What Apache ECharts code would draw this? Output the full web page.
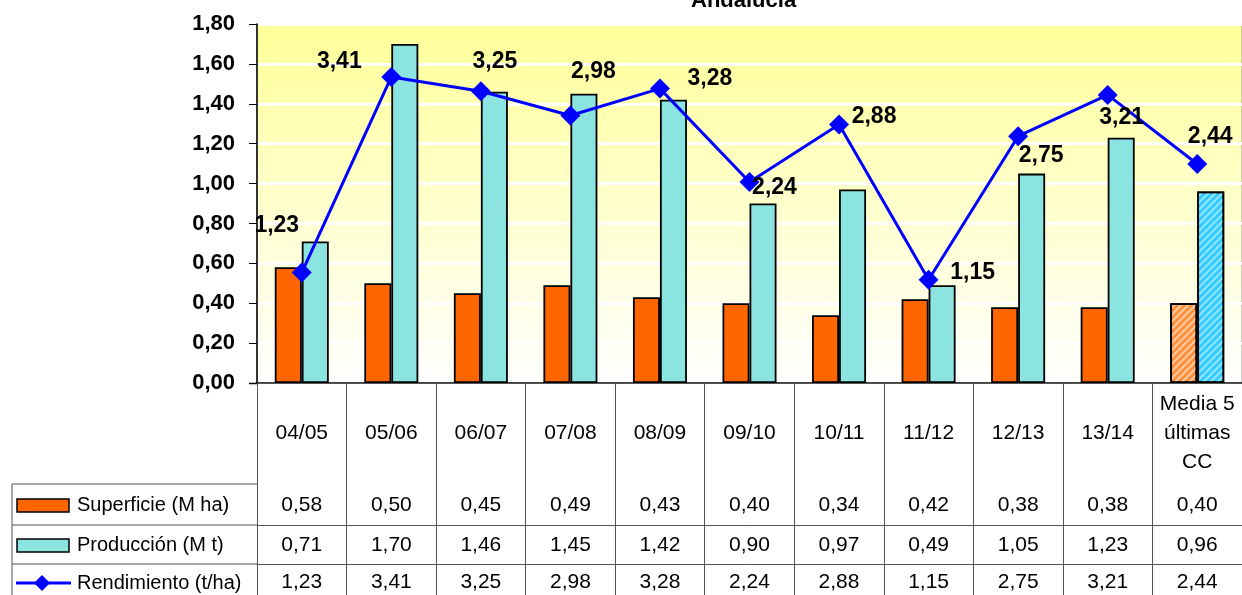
<!DOCTYPE html>
<html>
<head>
<meta charset="utf-8">
<script src="https://cdn.jsdelivr.net/npm/echarts@6/dist/echarts.min.js"></script>
<style>
	html, body { margin: 0; padding: 0; background: #fff; }
	#main { width: 1242px; height: 595px; }
</style>
</head>
<body>
<div id="main"></div>
<script>
var campanas = ['04/05', '05/06', '06/07', '07/08', '08/09', '09/10', '10/11', '11/12', '12/13', '13/14', 'Media 5\núltimas\nCC'];
var superficie = [0.58, 0.50, 0.45, 0.49, 0.43, 0.40, 0.34, 0.42, 0.38, 0.38, 0.40];
var produccion = [0.71, 1.70, 1.46, 1.45, 1.42, 0.90, 0.97, 0.49, 1.05, 1.23, 0.96];
var rendimiento = [1.23, 3.41, 3.25, 2.98, 3.28, 2.24, 2.88, 1.15, 2.75, 3.21, 2.44];
var yTicks = [0, 0.2, 0.4, 0.6, 0.8, 1.0, 1.2, 1.4, 1.6, 1.8];

// posicion de las etiquetas del rendimiento (desplazamiento respecto al punto)
var labelOffsets = [[-25, -47], [-52, -15], [14, -30], [23, -44], [50, -10], [25, 6],
	[35, -8], [44, -7], [23, 19], [14, 23], [13, -27]];

var FONT = '"Liberation Sans", Arial, sans-serif';
var LINE = '#555';

function fmt(v) {
	return v.toFixed(2).replace('.', ',');
}

function hatch(color) {
	return {
		color : color,
		dashArrayX : [ 1, 0 ],
		dashArrayY : [ 2, 3 ],
		rotation : -Math.PI / 4,
		symbol : 'rect'
	};
}

function tableAxis(offset, margin, values) {
	return {
		type : 'category',
		gridIndex : 0,
		position : 'bottom',
		offset : offset,
		data : campanas,
		axisLine : { show : true, lineStyle : { color : LINE, width : 1 } },
		axisTick : { show : false },
		axisLabel : {
			margin : margin,
			interval : 0,
			verticalAlign : 'middle',
			fontFamily : FONT,
			fontSize : 21,
			color : '#000',
			formatter : function(value, idx) {
				return fmt(values[idx]);
			}
		}
	};
}

function initChart() {
	var myChart = echarts.init(document.getElementById('main'));
	var last = campanas.length - 1;

	var supData = superficie.map(function(v, i) {
		if (i == last) {
			return { value : v, itemStyle : { color : '#FF9040', decal : hatch('rgba(255,220,180,0.8)') } };
		}
		return v;
	});
	var prodData = produccion.map(function(v, i) {
		if (i == last) {
			return { value : v, itemStyle : { color : '#33CCFF', decal : hatch('rgba(170,235,255,0.8)') } };
		}
		return v;
	});
	var rendData = rendimiento.map(function(v, i) {
		return { value : v, label : { offset : labelOffsets[i] } };
	});

	myChart.setOption({
		animation : false,
		title : {
			text : 'Andalucía',
			left : 686,
			top : -15,
			textStyle : { fontFamily : FONT, fontSize : 22, fontWeight : 'bold', color : '#000' }
		},
		grid : {
			left : 257,
			right : -3,
			top : 24,
			bottom : 212,
			show : true,
			borderColor : '#999',
			borderWidth : 1,
			backgroundColor : {
				type : 'linear', x : 0, y : 0, x2 : 0, y2 : 1,
				colorStops : [ { offset : 0, color : '#FFFF99' }, { offset : 1, color : '#FFFFFF' } ]
			}
		},
		xAxis : [ {
			type : 'category',
			data : campanas,
			axisLine : { lineStyle : { color : '#000', width : 1.5 } },
			axisTick : { show : true, length : 212, lineStyle : { color : LINE, width : 1 } },
			axisLabel : {
				interval : 0,
				margin : 50,
				verticalAlign : 'middle',
				lineHeight : 29,
				fontFamily : FONT,
				fontSize : 21,
				color : '#000'
			}
		},
			tableAxis(101, 21, superficie),
			tableAxis(142, 20, produccion),
			tableAxis(181, 18, rendimiento)
		],
		yAxis : [ {
			type : 'value',
			min : yTicks[0],
			max : yTicks[yTicks.length - 1],
			interval : 0.2,
			axisLine : { show : true, lineStyle : { color : '#000', width : 1.5 } },
			axisTick : { show : true, length : 8, lineStyle : { color : '#000' } },
			splitLine : { lineStyle : { color : '#fff', width : 3 } },
			axisLabel : {
				margin : 22,
				fontFamily : FONT,
				fontSize : 22,
				fontWeight : 'bold',
				color : '#000',
				formatter : function(v) {
					return fmt(v);
				}
			}
		}, {
			type : 'value',
			min : 0,
			max : 4,
			show : false,
			splitLine : { show : false }
		} ],
		series : [ {
			name : 'Superficie (M ha)',
			type : 'bar',
			data : supData,
			barWidth : 27,
			barGap : '0%',
			itemStyle : { color : '#FF6600', borderColor : '#000', borderWidth : 1.8 }
		}, {
			name : 'Producción (M t)',
			type : 'bar',
			data : prodData,
			barWidth : 27,
			barGap : '0%',
			itemStyle : { color : '#8CE4E0', borderColor : '#000', borderWidth : 1.8 }
		}, {
			name : 'Rendimiento (t/ha)',
			type : 'line',
			yAxisIndex : 1,
			data : rendData,
			symbol : 'diamond',
			symbolSize : 20,
			itemStyle : { color : '#0000FF' },
			lineStyle : { color : '#0000FF', width : 3 },
			label : {
				show : true,
				position : 'inside',
				fontFamily : FONT,
				fontSize : 23,
				fontWeight : 'bold',
				color : '#000',
				formatter : function(p) {
					return fmt(p.value);
				}
			}
		} ],
		graphic : [
			// columna de leyenda de la tabla
			{ type : 'line', shape : { x1 : 12, y1 : 484, x2 : 257, y2 : 484 }, style : { stroke : LINE, lineWidth : 1 } },
			{ type : 'line', shape : { x1 : 12, y1 : 525, x2 : 257, y2 : 525 }, style : { stroke : LINE, lineWidth : 1 } },
			{ type : 'line', shape : { x1 : 12, y1 : 564, x2 : 257, y2 : 564 }, style : { stroke : LINE, lineWidth : 1 } },
			{ type : 'line', shape : { x1 : 12, y1 : 484, x2 : 12, y2 : 595 }, style : { stroke : LINE, lineWidth : 1 } },
			{ type : 'line', shape : { x1 : 249, y1 : 383.5, x2 : 257, y2 : 383.5 }, style : { stroke : '#000', lineWidth : 1.5 } },
			{ type : 'rect', shape : { x : 17, y : 499, width : 52, height : 13 }, style : { fill : '#FF6600', stroke : '#000', lineWidth : 1.5 } },
			{ type : 'rect', shape : { x : 17, y : 539, width : 52, height : 13 }, style : { fill : '#8CE4E0', stroke : '#000', lineWidth : 1.5 } },
			{ type : 'line', shape : { x1 : 16, y1 : 583, x2 : 71, y2 : 583 }, style : { stroke : '#0000FF', lineWidth : 3 } },
			{ type : 'polygon', shape : { points : [ [ 42, 575 ], [ 50, 583 ], [ 42, 591 ], [ 34, 583 ] ] }, style : { fill : '#0000FF' } },
			{ type : 'text', x : 77, y : 505, style : { text : 'Superficie (M ha)', font : '20px ' + FONT, fill : '#000', verticalAlign : 'middle' } },
			{ type : 'text', x : 77, y : 545, style : { text : 'Producción (M t)', font : '20px ' + FONT, fill : '#000', verticalAlign : 'middle' } },
			{ type : 'text', x : 77, y : 583, style : { text : 'Rendimiento (t/ha)', font : '20px ' + FONT, fill : '#000', verticalAlign : 'middle' } }
		]
	});
}

initChart();
</script>
</body>
</html>
